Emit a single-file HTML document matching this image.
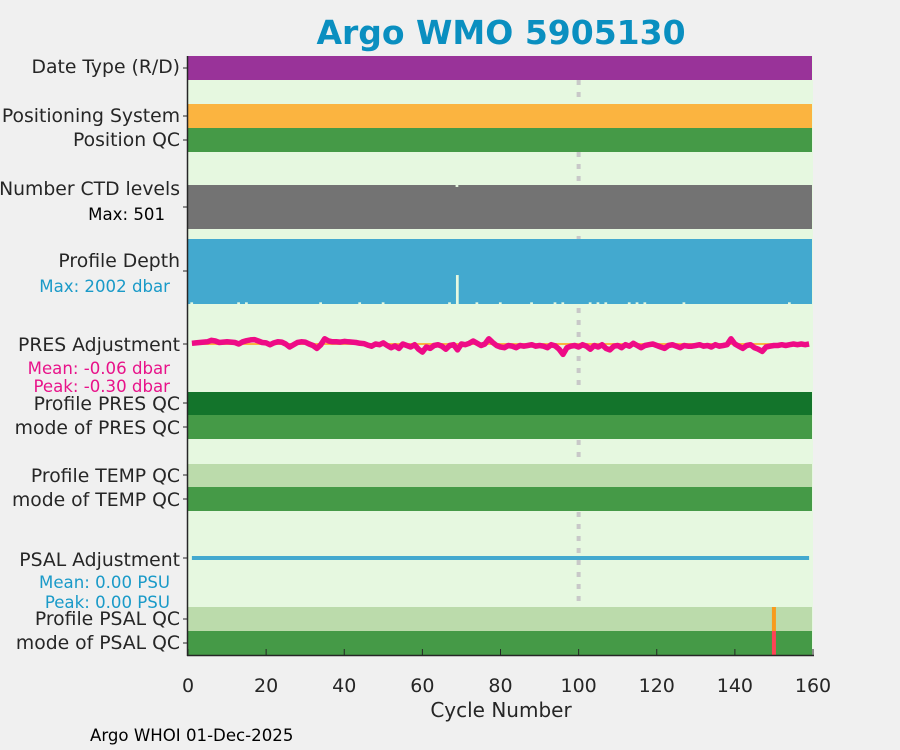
<!DOCTYPE html>
<html><head><meta charset="utf-8"><style>
body{margin:0;background:#f0f0f0;}
svg{display:block;font-family:"DejaVu Sans","Liberation Sans",sans-serif;}
</style></head><body>
<svg id="c" width="900" height="750">
<rect width="900" height="750" fill="#f0f0f0"/>
<text x="501" y="44" text-anchor="middle" font-size="33" font-weight="bold" fill="#0a8fc0">Argo WMO 5905130</text>
<rect x="188" y="56" width="625" height="599" fill="#e6f8e0"/>
<g id="marks"></g>
<g font-size="18.8" fill="#262626" text-anchor="end">
<text x="180" y="73">Date Type (R/D)</text>
<text x="180" y="122">Positioning System</text>
<text x="180" y="146">Position QC</text>
<text x="180" y="195">Number CTD levels</text>
<text x="165" y="220" font-size="16.6" fill="#000">Max: 501</text>
<text x="170" y="292" font-size="16.6" fill="#1a9ac8">Max: 2002 dbar</text>
<text x="180" y="267">Profile Depth</text>
<text x="180" y="351">PRES Adjustment</text>
<text x="170" y="374" font-size="16.6" fill="#e8138a">Mean: -0.06 dbar</text>
<text x="170" y="392" font-size="16.6" fill="#e8138a">Peak: -0.30 dbar</text>
<text x="180" y="410">Profile PRES QC</text>
<text x="180" y="434">mode of PRES QC</text>
<text x="180" y="482">Profile TEMP QC</text>
<text x="180" y="506">mode of TEMP QC</text>
<text x="180" y="566">PSAL Adjustment</text>
<text x="170" y="588" font-size="16.6" fill="#1a9ac8">Mean: 0.00 PSU</text>
<text x="170" y="608" font-size="16.6" fill="#1a9ac8">Peak: 0.00 PSU</text>
<text x="180" y="625">Profile PSAL QC</text>
<text x="180" y="649">mode of PSAL QC</text>
</g>
<text x="501" y="717" text-anchor="middle" font-size="20" fill="#262626">Cycle Number</text>
<text x="90" y="741" font-size="16.6" fill="#000">Argo WHOI 01-Dec-2025</text>
<g id="axes"></g>
</svg>
<script>
const xTicks = [0,20,40,60,80,100,120,140,160];
const depthNotchCycles = [1,13,15,34,44,50,67,74,80,88,94,96,103,105,107,113,115,117,127,154];
const depthNotchValue = 1950;
const depthLowCycle = 69;
const depthLowValue = 1110;
const depthMax = 2002;
const lastCycle = 159;
const psalQcBadCycle = 150;
const refCycle = 100;
const presAdj = [0.02,0.03,0.04,0.05,0.06,0.10,0.08,0.04,0.05,0.06,0.05,0.04,0.00,0.06,0.09,0.11,0.12,0.08,0.04,0.03,-0.02,0.03,0.06,0.05,0.00,-0.08,-0.02,0.04,0.06,0.05,0.00,-0.04,-0.12,-0.02,0.14,0.08,0.06,0.06,0.05,0.07,0.06,0.05,0.04,0.02,0.01,-0.03,-0.06,0.00,-0.02,0.03,-0.04,-0.10,-0.05,-0.12,0.00,-0.04,-0.08,-0.02,-0.14,-0.22,-0.08,-0.12,-0.04,-0.02,-0.06,-0.14,-0.04,-0.02,-0.16,0.00,-0.02,0.02,0.08,0.02,-0.04,0.00,0.14,0.04,-0.04,-0.08,-0.10,-0.04,-0.06,-0.10,-0.04,-0.06,-0.04,-0.02,-0.06,-0.04,-0.06,-0.10,-0.02,-0.05,-0.14,-0.28,-0.10,-0.06,-0.04,-0.08,-0.02,-0.06,-0.14,-0.04,-0.08,-0.02,-0.12,-0.16,-0.06,-0.04,-0.10,-0.02,-0.06,0.02,-0.04,-0.10,-0.04,-0.02,0.00,-0.04,-0.08,-0.12,-0.04,-0.02,-0.06,-0.10,-0.04,-0.06,-0.06,-0.04,-0.02,-0.06,-0.04,-0.08,-0.02,-0.06,-0.04,-0.02,0.14,0.00,-0.06,-0.12,-0.04,-0.02,-0.10,-0.14,-0.20,-0.08,-0.06,-0.04,-0.04,-0.02,-0.04,-0.02,0.00,-0.02,0.00,-0.02,0.00,0.00];
const NS="http://www.w3.org/2000/svg";
const X0=188,X1=813,XMAX=160;
function xs(c){return X0+(c/XMAX)*(X1-X0);}
const cw=(X1-X0)/XMAX;
function presY(v){return 344-v*37;}
const marks=document.getElementById('marks'), axes=document.getElementById('axes');
function mk(tag,attrs,parent){const e=document.createElementNS(NS,tag);for(const k in attrs)e.setAttribute(k,attrs[k]);(parent||marks).appendChild(e);return e;}
let ref=mk('line',{x1:xs(refCycle),x2:xs(refCycle),y1:80,y2:605,stroke:'#c8c8c8','stroke-width':4,'stroke-dasharray':'5 7'});


function band(y,h,fill,name){const r=mk('rect',{x:X0,y:y,width:X1-X0-1,height:h,fill:fill});


return r;}
band(56,24,'#993399','date-type-bar');
band(104,24,'#fbb440','positioning-system-bar');
band(128,24,'#459a47','position-qc-bar');
band(185,44,'#737373','ctd-levels-bar');
band(392,23,'#13742b','profile-pres-qc-bar');
band(415,24,'#459a47','mode-pres-qc-bar');
band(464,23,'#bbdbab','profile-temp-qc-bar');
band(487,24,'#459a47','mode-temp-qc-bar');
band(607,24,'#bbdbab','profile-psal-qc-bar');
band(631,24,'#459a47','mode-psal-qc-bar');
let n=mk('rect',{x:xs(depthLowCycle)-cw/2,y:185,width:cw*0.7,height:2,fill:'#e6f8e0'});


const DT=239,DH=65;
band(DT,DH,'#43a9cf','profile-depth-bar');
function depthGap(c,v,name){const y=DT+DH*v/depthMax;const r=mk('rect',{x:xs(c)-cw*0.4,y:y,width:cw*0.7,height:DT+DH-y,fill:'#e6f8e0'});

}
depthNotchCycles.forEach(c=>depthGap(c,depthNotchValue,'profile-depth-short'));
depthGap(depthLowCycle,depthLowValue,'profile-depth-low');
let z=mk('line',{x1:xs(1),x2:xs(lastCycle),y1:presY(0),y2:presY(0),stroke:'#fbb440','stroke-width':2});


let pts=presAdj.slice(0,lastCycle).map((v,i)=>xs(i+1).toFixed(1)+','+presY(v).toFixed(1)).join(' ');
let pl=mk('polyline',{points:pts,fill:'none',stroke:'#ee0b86','stroke-width':5.5,'stroke-linejoin':'round'});


let ps=mk('line',{x1:xs(1),x2:xs(lastCycle),y1:558,y2:558,stroke:'#43a9cf','stroke-width':4});


let b1=mk('rect',{x:xs(psalQcBadCycle)-2,y:607,width:4,height:24,fill:'#f79b1e'});


let b2=mk('rect',{x:xs(psalQcBadCycle)-2,y:631,width:4,height:24,fill:'#ff4455'});


let ax=mk('line',{x1:X0-0.5,x2:X0-0.5,y1:56,y2:656,stroke:'#262626','stroke-width':1.5},axes);


let bx=mk('line',{x1:X0-1,x2:X1+1,y1:655.5,y2:655.5,stroke:'#262626','stroke-width':1.5},axes);


[68,116,140,207,271,344,403,427,475,499,558,619,643].forEach(y=>{mk('line',{x1:X0,x2:X0-5,y1:y,y2:y,stroke:'#262626','stroke-width':1},axes);});
xTicks.forEach(t=>{
 mk('line',{x1:xs(t),x2:xs(t),y1:655,y2:649,stroke:'#262626','stroke-width':1},axes);
 const tx=mk('text',{x:xs(t),y:692,'text-anchor':'middle','font-size':19,fill:'#262626'},axes);
 tx.textContent=t;
 
 
});
</script>
</body></html>
